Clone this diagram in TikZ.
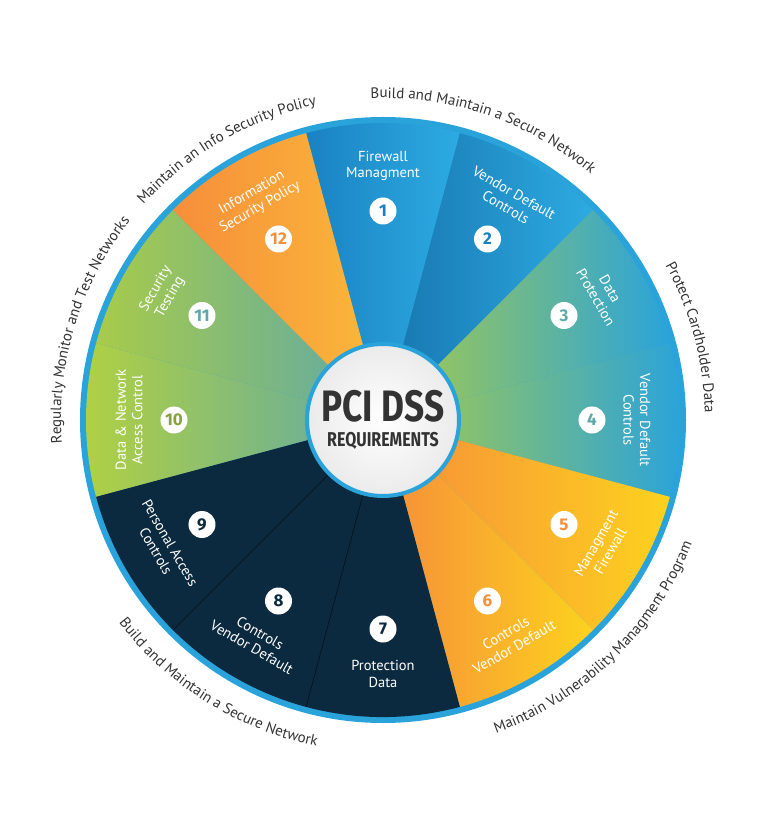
\documentclass[tikz,border=0pt]{standalone}
\usepackage{fontspec}
\setmainfont{PT Sans}
\newfontfamily\numfont{Fira Sans}
\usetikzlibrary{decorations.text}
\definecolor{ringblue}{HTML}{2AA3DB}
\definecolor{navy}{HTML}{0C2A3F}
\definecolor{cblueA}{HTML}{1A82C2}
\definecolor{cblueB}{HTML}{2DABE2}
\definecolor{cgreen}{HTML}{A8CB4A}
\definecolor{cteal}{HTML}{5EA9A8}
\definecolor{corange}{HTML}{F68E3A}
\definecolor{cyellow}{HTML}{FDD21E}
\definecolor{corangeB}{HTML}{FBB93A}
\definecolor{cgrey}{HTML}{333333}
\tikzset{
  wedgetext/.style={text=white,font=\fontsize{14.5}{16.5}\selectfont,align=center,inner sep=0pt},
  badge/.style={circle,fill=white,minimum size=27pt,inner sep=0pt,font=\numfont\bfseries\fontsize{17}{17}\selectfont},
  outerlabel/.style={decorate,decoration={text along path,text align=center,text={|\fontsize{15}{16}\selectfont\color{cgrey}|#1}}},
}
\newcommand\wedgeshape[2]{(0,0) -- (#1:297) arc[start angle=#1,end angle=#2,radius=297] -- cycle}
\begin{document}
\begin{tikzpicture}[x=1pt,y=1pt]
\useasboundingbox (-383,-420) rectangle (373,420);
% outer ring
\fill[ringblue] (0,0) circle (303);
% wedges
\shade[left color=cblueA,right color=cblueB] \wedgeshape{75}{105};
\shade[left color=cblueA!90!black,right color=cblueB] \wedgeshape{45}{75};
\shade[shading angle=135,left color=cgreen,right color=ringblue] \wedgeshape{15}{45};
\shade[left color=cgreen,right color=ringblue] \wedgeshape{-15}{15};
\shade[shading angle=120,left color=corange,right color=cyellow] \wedgeshape{-45}{-15};
\shade[left color=corange,right color=cyellow] \wedgeshape{-75}{-45};
\shade[left color=cgreen!90!yellow,right color=cteal] \wedgeshape{165}{195};
\shade[shading angle=-60,left color=cgreen,right color=cteal] \wedgeshape{135}{165};
\shade[left color=corange,right color=corangeB] \wedgeshape{105}{135};
\fill[navy] \wedgeshape{-165}{-75};
\draw[black!60!navy,line width=0.6pt] (0,0) -- (-105:297) (0,0) -- (-135:297);
% centre
\shade[inner color=white,outer color=black!8,draw=ringblue,line width=4pt] (0,0) circle (76);
\node (title) at (0,14) {\fontspec{Fira Sans}\bfseries\color{cgrey}\scalebox{0.8}[1]{\fontsize{44}{44}\selectfont PCI DSS}};
\node (sub) at (0,-21) {\fontspec{Fira Sans}\bfseries\color{cgrey}\scalebox{0.8}[1]{\fontsize{20}{20}\selectfont REQUIREMENTS}};
% wedge texts and badges
\foreach \i/\ang/\rot/\txt/\col in {
  1/90/0/{Firewall\\Managment}/cblueA,
  2/60/-30/{Vendor Default\\Controls}/cblueA,
  3/30/-60/{Data\\Protection}/cteal,
  4/0/-90/{Vendor Default\\Controls}/cteal,
  5/-30/60/{Managment\\Firewall}/corange,
  6/-60/30/{Controls\\Vendor Default}/corange,
  7/-90/0/{Protection\\Data}/navy,
  8/-120/-30/{Controls\\Vendor Default}/navy,
  9/-150/-60/{Personal Access\\Controls}/navy,
  10/180/90/{Data \& Network\\Access Control}/cgreen!80!black,
  11/150/60/{Security\\Testing}/cteal,
  12/120/30/{Information\\Security Policy}/corange}{
  \node[wedgetext,rotate=\rot] (t\i) at (\ang:254) {\txt};
  \node[badge,text=\col] (b\i) at (\ang:209) {\i};
}
% outer labels
\path[outerlabel={Build and Maintain a Secure Network}] (100:322) arc[start angle=100,end angle=42,radius=322];
\path[outerlabel={Protect Cardholder Data}] (32:322) arc[start angle=32,end angle=-2,radius=322];
\path[outerlabel={Maintain Vulnerability Managment Program}] (-78:333) arc[start angle=-78,end angle=-14,radius=333];
\path[outerlabel={Build and Maintain a Secure Network}] (-152:333) arc[start angle=-152,end angle=-92,radius=333];
\path[outerlabel={Regularly Monitor and Test Networks}] (188:322) arc[start angle=188,end angle=138,radius=322];
\path[outerlabel={Maintain an Info Security Policy}] (142:322) arc[start angle=142,end angle=98,radius=322];
\end{tikzpicture}
\end{document}
